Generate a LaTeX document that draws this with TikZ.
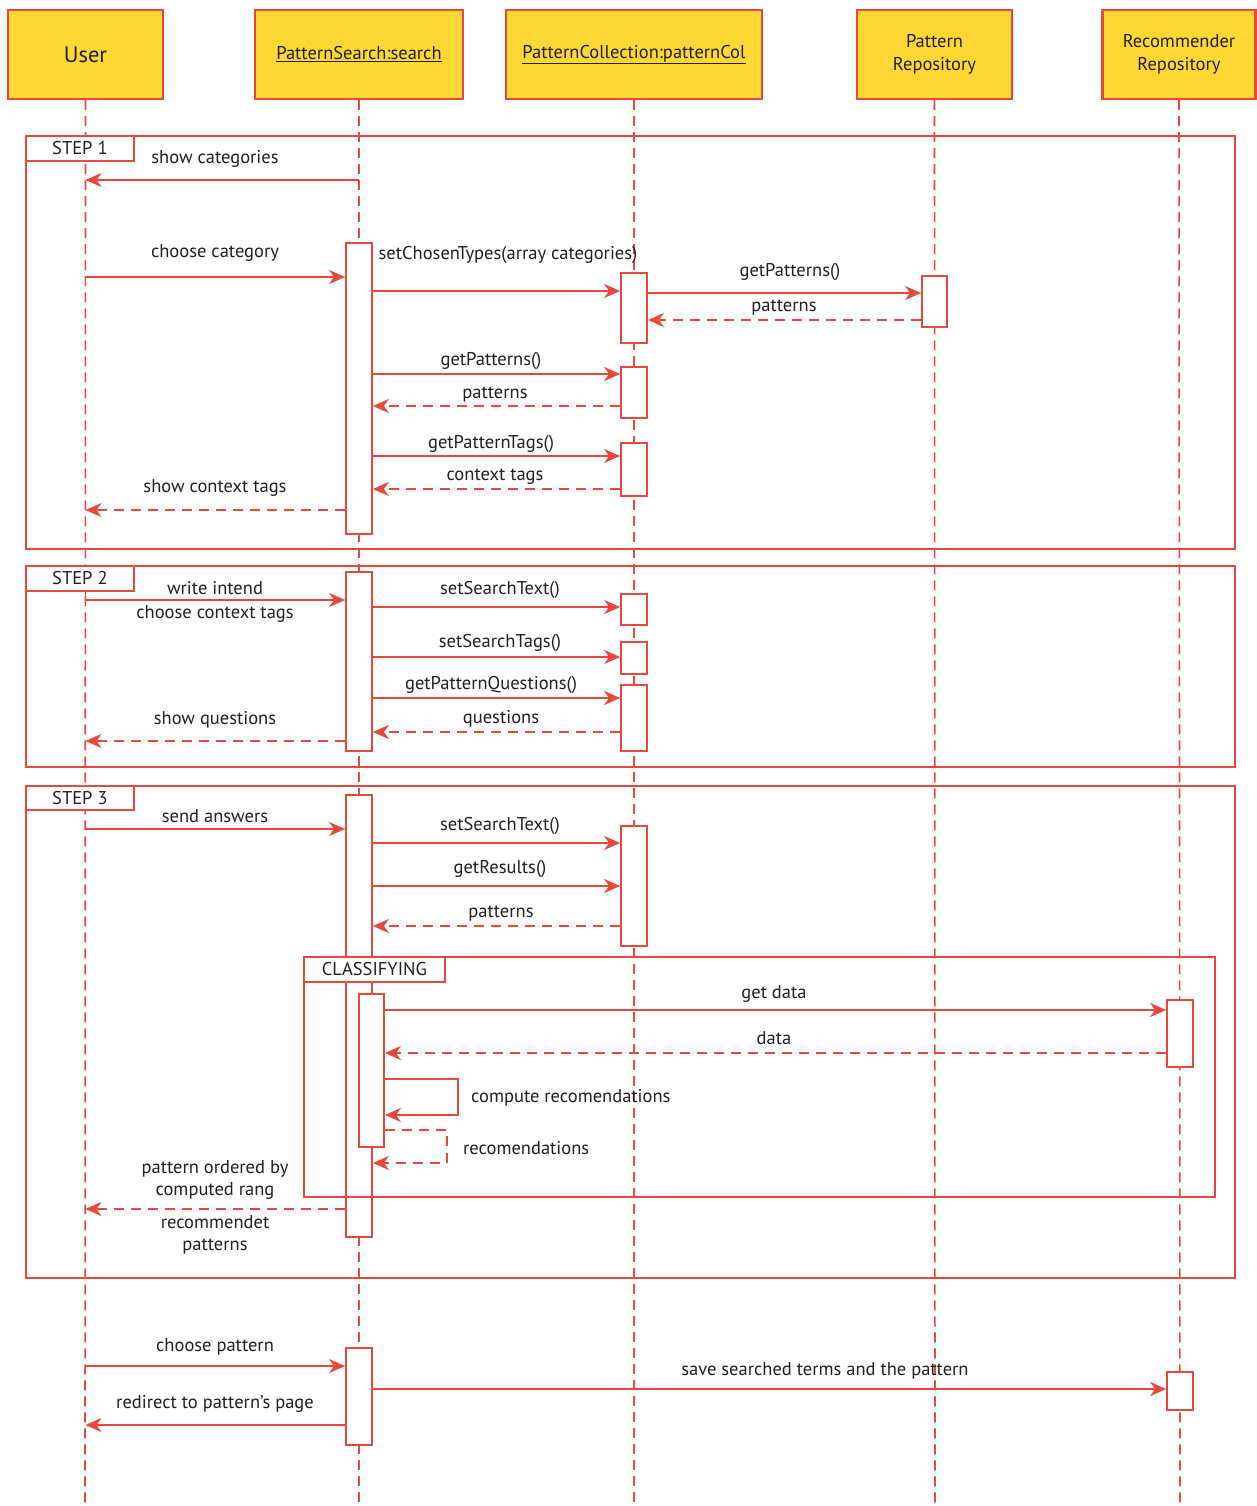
\documentclass[tikz,border=0pt]{standalone}
\usepackage{fontspec}
\setmainfont{PT Sans}
\usetikzlibrary{arrows.meta}
\definecolor{rd}{HTML}{E8473D}
\definecolor{yl}{HTML}{FDD835}
\definecolor{tx}{HTML}{231F20}
\begin{document}
\begin{tikzpicture}[x=1pt,y=-1pt,
  every node/.style={text=tx, font=\fontsize{18.5}{22}\selectfont},
  head/.style={draw=rd, fill=yl, line width=2.5pt, inner sep=0pt, align=center},
  life/.style={draw=rd, line width=1.6pt, dash pattern=on 10pt off 6pt},
  act/.style={draw=rd, fill=white, line width=1.8pt, minimum width=26pt, inner sep=0pt, anchor=north},
  frame/.style={draw=rd, line width=1.8pt, inner sep=0pt, anchor=north west},
  flabel/.style={draw=rd, fill=white, line width=1.8pt, inner sep=0pt, anchor=north west, minimum height=25pt},
  msg/.style={draw=rd, line width=1.8pt, -{Stealth[length=16pt,width=14pt,inset=5pt]}},
  ret/.style={msg, dash pattern=on 10pt off 7pt},
  lbl/.style={inner sep=0pt, align=center}
]
\useasboundingbox (0,0) rectangle (1257,1506);
\fill[white] (0,0) rectangle (1257,1506);

% headers
\node[head, minimum width=155pt, minimum height=89pt, font=\fontsize{22.5}{26}\selectfont] (user) at (85.5,54.5) {User};
\node[head, minimum width=208pt, minimum height=89pt] (ps) at (359,54.5) {\underline{PatternSearch:search}};
\node[head, minimum width=256pt, minimum height=89pt] (pc) at (634,54.5) {\underline{PatternCollection:patternCol}};
\node[head, minimum width=155pt, minimum height=89pt, font=\fontsize{18.5}{22.5}\selectfont] (pr) at (934.5,54.5) {Pattern\\Repository};
\node[head, minimum width=153pt, minimum height=89pt, font=\fontsize{18.5}{22.5}\selectfont] (rr) at (1179,54.5) {Recommender\\Repository};

% lifeline ends
\coordinate (userE) at (85,1506);
\coordinate (psE) at (359,1506);
\coordinate (pcE) at (634,1506);
\coordinate (prE) at (935,1506);
\coordinate (rrE) at (1180,1506);
\draw[life] (user.south) -- (userE);
\draw[life] (ps.south) -- (psE);
\draw[life] (pc.south) -- (pcE);
\draw[life] (pr.south) -- (prE);
\draw[life] (rr.south) -- (rrE);

% frames
\node[frame, minimum width=1209pt, minimum height=413pt] (f1) at (25,135) {};
\node[flabel, minimum width=108pt] (f1l) at (25,135) {STEP 1};
\node[frame, minimum width=1209pt, minimum height=201pt] (f2) at (25,565) {};
\node[flabel, minimum width=108pt] (f2l) at (25,565) {STEP 2};
\node[frame, minimum width=1209pt, minimum height=492pt] (f3) at (25,785) {};
\node[flabel, minimum width=108pt, minimum height=24pt] (f3l) at (25,785) {STEP 3};

% activations PatternSearch
\node[act, minimum height=291pt] (s1) at (359,242) {};
\node[act, minimum height=179pt] (s2) at (359,571) {};
\node[act, minimum height=442pt] (s3) at (359,794) {};
\node[act, minimum height=97pt] (s4) at (359,1347) {};

% classifying frame
\node[frame, minimum width=911pt, minimum height=240pt] (fc) at (303,956) {};
\node[flabel, minimum width=141pt] (fcl) at (303,956) {CLASSIFYING};
\node[act, minimum width=25pt, minimum height=153pt] (c1) at (371.5,993) {};

% activations PatternCollection
\node[act, minimum height=70pt] (p1) at (634,272) {};
\node[act, minimum height=51pt] (p2) at (634,366) {};
\node[act, minimum height=53pt] (p3) at (634,442) {};
\node[act, minimum height=31pt] (p4) at (634,593) {};
\node[act, minimum height=32pt] (p5) at (634,641) {};
\node[act, minimum height=66pt] (p6) at (634,684) {};
\node[act, minimum height=120pt] (p7) at (634,825) {};

% Pattern repository
\node[act, minimum width=25pt, minimum height=51pt] (r1) at (934.5,275) {};
% Recommender repository
\node[act, minimum height=67pt] (q1) at (1180,999) {};
\node[act, minimum height=38pt] (q2) at (1180,1371) {};

% ---- STEP 1 messages
\draw[msg] (ps.center |- 0,180) -- (user.center |- 0,180);
\node[lbl] (m1) at (215,159) {show categories};
\draw[msg] (user.center |- 0,277) -- (s1.west |- 0,277);
\node[lbl] (m2) at (215,253) {choose category};
\draw[msg] (s1.east |- 0,291) -- (p1.west |- 0,291);
\node[lbl] (m3) at (508,255) {setChosenTypes(array categories)};
\draw[msg] (p1.east |- 0,293) -- (r1.west |- 0,293);
\node[lbl] (m4) at (790,272) {getPatterns()};
\draw[ret] (r1.west |- 0,320) -- (p1.east |- 0,320);
\node[lbl] (m5) at (784,308) {patterns};
\draw[msg] (s1.east |- 0,374) -- (p2.west |- 0,374);
\node[lbl] (m6) at (491,361) {getPatterns()};
\draw[ret] (p2.west |- 0,406) -- (s1.east |- 0,406);
\node[lbl] (m7) at (495,395) {patterns};
\draw[msg] (s1.east |- 0,456) -- (p3.west |- 0,456);
\node[lbl] (m8) at (491,444) {getPatternTags()};
\draw[ret] (p3.west |- 0,489) -- (s1.east |- 0,489);
\node[lbl] (m9) at (495,477) {context tags};
\draw[ret] (s1.west |- 0,510) -- (user.center |- 0,510);
\node[lbl] (m10) at (215,488) {show context tags};

% ---- STEP 2 messages
\draw[draw=rd, line width=1.8pt] (f2l.south -| user.center) -- (user.center |- 0,600);
\draw[msg] (user.center |- 0,600) -- (s2.west |- 0,600);
\node[lbl] (m11) at (215,588) {write intend};
\node[lbl] (m12) at (215,614) {choose context tags};
\draw[msg] (s2.east |- 0,607) -- (p4.west |- 0,607);
\node[lbl] (m13) at (500,590) {setSearchText()};
\draw[msg] (s2.east |- 0,657) -- (p5.west |- 0,657);
\node[lbl] (m14) at (500,643) {setSearchTags()};
\draw[msg] (s2.east |- 0,698) -- (p6.west |- 0,698);
\node[lbl] (m15) at (491,685) {getPatternQuestions()};
\draw[ret] (p6.west |- 0,732) -- (s2.east |- 0,732);
\node[lbl] (m16) at (501,719) {questions};
\draw[ret] (s2.west |- 0,741) -- (user.center |- 0,741);
\node[lbl] (m17) at (215,720) {show questions};

% ---- STEP 3 messages
\draw[msg] (user.center |- 0,829) -- (s3.west |- 0,829);
\node[lbl] (m18) at (215,816) {send answers};
\draw[msg] (s3.east |- 0,843) -- (p7.west |- 0,843);
\node[lbl] (m19) at (500,826) {setSearchText()};
\draw[msg] (s3.east |- 0,886) -- (p7.west |- 0,886);
\node[lbl] (m20) at (500,869) {getResults()};
\draw[ret] (p7.west |- 0,926) -- (s3.east |- 0,926);
\node[lbl] (m21) at (501,914) {patterns};
\draw[msg] (c1.east |- 0,1010) -- (q1.west |- 0,1010);
\node[lbl] (m22) at (774,994) {get data};
\draw[ret] (q1.west |- 0,1053) -- (c1.east |- 0,1053);
\node[lbl] (m23) at (774,1038) {data};
\coordinate (lp1) at (458,1079);
\coordinate (lp2) at (458,1115);
\draw[msg] (c1.east |- lp1) -- (lp1) -- (lp2) -- (c1.east |- lp2);
\node[lbl, anchor=west] (m24) at (471,1098) {compute recomendations};
\coordinate (lr1) at (447,1130);
\coordinate (lr2) at (447,1163);
\draw[ret] (c1.east |- lr1) -- (lr1) -- (lr2) -- (s3.east |- lr2);
\node[lbl, anchor=west] (m25) at (463,1148) {recomendations};
\draw[ret] (s3.west |- 0,1209) -- (user.center |- 0,1209);
\node[lbl, font=\fontsize{18.5}{22.5}\selectfont] (m26) at (215,1180) {pattern ordered by\\computed rang};
\node[lbl, font=\fontsize{18.5}{22.5}\selectfont] (m27) at (215,1235) {recommendet\\patterns};

% ---- final messages
\draw[msg] (user.center |- 0,1366) -- (s4.west |- 0,1366);
\node[lbl] (m28) at (215,1347) {choose pattern};
\draw[msg] (s4.east |- 0,1389) -- (q2.west |- 0,1389);
\node[lbl] (m29) at (825,1371) {save searched terms and the pattern};
\draw[msg] (s4.west |- 0,1425) -- (user.center |- 0,1425);
\node[lbl] (m30) at (215,1404) {redirect to pattern’s page};
\end{tikzpicture}
\end{document}
